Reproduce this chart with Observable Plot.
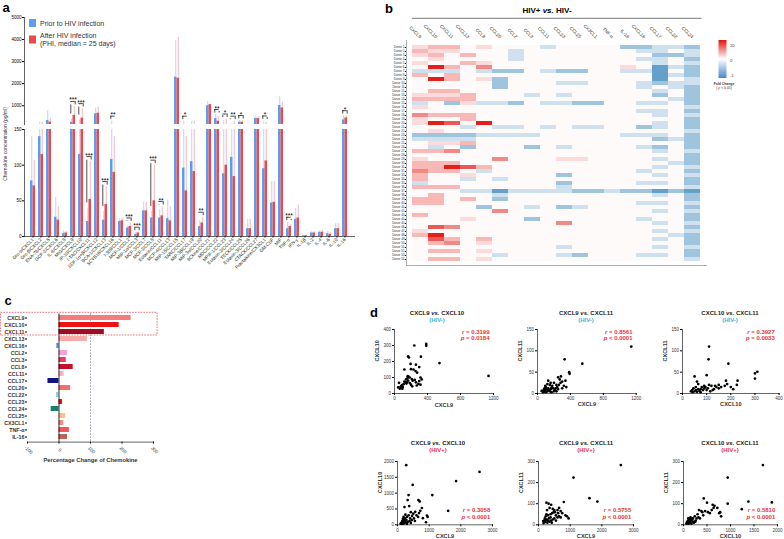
<!DOCTYPE html>
<html><head><meta charset="utf-8">
<script src="https://cdn.jsdelivr.net/npm/d3@7"></script>
<script src="https://cdn.jsdelivr.net/npm/@observablehq/plot@0.6"></script>
<style>
body{margin:0;background:#fff;}
#root{position:relative;width:784px;height:539px;overflow:hidden;background:#fff;}
.abs{position:absolute;}
.abs svg{display:block;}
</style></head><body><div id="root"></div>
<script>
// ---------------- Panel a data ----------------
const cytokines = ["Gro-α/CXCL1","Gro-β/CXCL2","ENA-78/CXCL5","GCP-2/CXCL6","IL-8/CXCL8","MIG/CXCL9","IP-10/CXCL10","I-TAC/CXCL11","SDF-1α+β/CXCL12","BCA-1/CXCL13","SCYB16/CXCL16","I-309/CCL1","MCP-1/CCL2","MIP-1α/CCL3","MCP-3/CCL7","MCP-2/CCL8","Eotaxin/CCL11","MCP-4/CCL13","MIP-1δ/CCL15","TARC/CCL17","MIP-3β/CCL19","MIP-3α/CCL20","6Ckine/CCL21","MDC/CCL22","MPIF-1/CCL23","Eotaxin-2/CCL24","TECK/CCL25","Eotaxin-3/CCL26","CTACK/CCL27","Fractalkine/CX3CL1","GM-CSF","MIF","TNF-α","IFN-γ","IL-1β","IL-2","IL-4","IL-6","IL-10","IL-16"];
const priorMean = [78,140,330,27,4,255,115,21,636,23,108,21,12,3,36,26,26,25,2300,96,105,14,1000,420,88,111,255,11,420,95,47,1010,11,24,1,5,6,4,11,360];
const afterMean = [71,115,260,23,5,560,440,52,664,45,90,22,14,5,36,50,29,22,2250,64,91,19,1050,300,100,84,255,11,420,106,48,900,14,26,1,5,6,3,11,450];
const priorErr = [140,260,780,55,8,400,350,40,900,35,300,25,15,5,48,35,38,51,3950,300,300,22,1200,600,330,180,330,24,500,310,77,1400,20,39,2,7,8,7,18,550];
const afterErr = [107,250,430,42,7,970,870,105,930,70,140,25,19,6,48,100,42,42,4100,140,300,27,1050,520,400,300,330,24,500,250,77,1150,17,44,2,7,9,6,18,550];
const sigStars = ["","","","","","***","***","***","","***","**","","***","***","","***","**","","","*","","**","","**","*","**","*","","","*","","","***","","","","","","","*"];
const topTicks = [1000,2000,3000,4000,5000];
const lowTicks = [0,50,100,150];

// ---------------- Panel b data ----------------
const hmCols = ["CXCL9","CXCL10","CXCL11","CXCL13","CCL8","CCL20","CCL2","CCL3","CCL11","CCL23","CCL25","CX3CL1","TNF-α","IL-16","CXCL16","CCL17","CCL22","CCL24"];
const hmLevels = {R:19, r:14, m:10, p:6, q:3, ".":0.4, l:-0.25, b:-0.5, B:-0.8};
const hmRows = [
"qpp.q...l....bbllb","pqq...l.......ll.l","qp.p..l........bbl",".q....l.......ll.b","q..pq..........l.l",
".Rp.m........q.Blb","lll.lbb.lbb..llB.b","p.p............Blb",".Rp.qb.........B.l",".....b...ll...lbll",
".....b........l.lb",".pp............l.b","qqqp...l.l.....b.b","pppp............lb","l.bqllb.llbb..ll.b",
"q................l","..............ll.b","mppp...........l.l","q..p.............b","qRr.R..........l.b",
"...l.ll.l.ll..bl.b",".q...............l","bbbbllll.....lll.b","llll...........blb",".qqp.............b",
".l.b...b.l....lb.b","ppm............l.l",".................b","q....m...qq....l.b","ppp.............lb",
"ppRrp..........l.l","mpp.l.........l..b","p..q.....b.....l.l","p..l.l...........b","l........b....ll.b",
"ppp......l.......l","...llBllllbblbbBbB",".p...l.........l.b","pp.p.b...........b","pp............ll.l",
"....b..l.bl......b",".....m.........l.l","p................b","...q...b......l..b",".........m.....l.l",
".rm..............b","q..............l.l","pR..............lb",".rp.p..........l.b",".pm.q............b",
".........l.....l.l",".pp.q............b",".....l...lb...ll.b",".pp.q............l"];
const donors = hmRows.map((_, i) => "Donor " + (i + 1));

// ---------------- Panel c data ----------------
const pcNames = ["CXCL9","CXCL10","CXCL11","CXCL13","CXCL16","CCL2","CCL3","CCL8","CCL11","CCL17","CCL20","CCL22","CCL23","CCL24","CCL25","CX3CL1","TNF-α","IL-16"];
const pcValues = [229,191,144,90,-7,27,23,45,16,-35,37,-8,11,-25,21,15,33,27];
const pcColors = ["#f47c7c","#f01212","#9c0e26","#f9aaa8","#4f93dc","#f4a2d8","#ea3c5e","#c4102c","#f5b0c0","#10107e","#f76e6e","#8ccfe0","#e5101a","#188262","#f8c28c","#f48a8a","#f45656","#bf605a"];

// ---------------- Panel d data ----------------
const negX9Y10 = [[240,300],[385,310],[385,298],[545,190],[1140,110],[320,230],[175,225],[165,232],[195,185],[260,180],[120,150],[200,152],[300,165],[275,130],[230,150],[255,140],[160,108],[185,100],[315,100],[330,88],[300,78],[315,55],[290,60],[140,88],[155,95],[170,105],[210,90],[220,80],[245,85],[120,75],[145,62],[165,80],[130,70],[150,70],[90,52],[55,67],[75,42],[45,38],[65,30],[95,30],[80,45],[110,58],[100,40],[200,55],[270,50],[215,45],[185,65],[260,70]];
const negX9Y11 = [[1140,110],[545,70],[330,80],[385,50],[390,46],[340,30],[300,28],[250,38],[270,33],[285,40],[130,30],[160,25],[200,25],[230,20],[240,15],[320,18],[350,15],[180,18],[150,20],[120,22],[100,15],[110,10],[90,8],[80,5],[60,5],[70,3],[50,6],[130,12],[140,8],[160,10],[170,14],[190,12],[210,8],[220,12],[250,10],[260,20],[280,25],[300,12],[120,5],[150,5],[100,3],[75,8],[85,12],[95,18],[200,5],[170,3],[230,5]];
const negX10Y11 = [[110,110],[108,80],[190,70],[300,47],[310,51],[300,35],[228,30],[225,20],[180,30],[185,22],[175,18],[160,15],[50,40],[100,43],[120,18],[110,20],[140,15],[150,12],[130,10],[95,15],[90,18],[80,15],[75,10],[60,28],[65,22],[55,15],[45,12],[40,8],[35,5],[42,3],[50,5],[55,8],[60,4],[65,10],[70,6],[75,3],[85,8],[90,12],[100,8],[105,12],[115,5],[125,8],[135,18],[150,20],[200,15],[210,10]];
const posX9Y10 = [[275,1885],[2590,1670],[1850,1380],[1100,940],[1600,440],[480,1260],[350,940],[320,780],[660,780],[700,740],[220,560],[370,590],[560,410],[680,370],[720,440],[770,530],[930,290],[950,250],[900,80],[800,210],[600,300],[650,250],[500,350],[420,400],[460,280],[400,200],[350,300],[300,250],[280,150],[250,320],[240,200],[230,100],[200,150],[180,80],[160,50],[150,120],[140,30],[120,60],[100,40],[200,40],[260,60],[320,90],[380,120],[450,150],[520,200],[550,120],[420,60],[300,30],[190,250],[170,180]];
const posX9Y11 = [[2600,283],[1105,224],[1610,126],[1860,110],[250,105],[320,100],[400,95],[350,80],[450,75],[500,70],[600,70],[650,80],[700,65],[800,108],[850,45],[900,40],[950,30],[750,55],[550,45],[480,60],[430,55],[380,50],[300,45],[270,70],[230,40],[200,30],[180,20],[220,15],[260,25],[280,10],[300,20],[330,30],[350,15],[400,20],[450,25],[500,30],[550,20],[600,35],[650,40],[700,35],[420,10],[250,50],[200,12],[150,18],[160,8],[210,22],[380,35],[520,60],[620,55]];
const posX10Y11 = [[1690,283],[940,224],[940,100],[1380,110],[1880,106],[1240,74],[800,40],[780,60],[760,55],[640,80],[620,95],[560,55],[500,105],[430,125],[460,65],[400,60],[380,65],[330,70],[300,50],[320,35],[280,30],[260,20],[240,40],[200,15],[180,25],[160,20],[150,10],[140,30],[120,15],[100,20],[90,8],[80,15],[70,10],[110,5],[130,25],[200,30],[220,10],[170,5],[250,15],[350,30],[420,45],[520,60],[600,70],[660,90],[720,80],[100,30],[60,5],[150,35]];
const scTitles = ["CXCL9 vs. CXCL10","CXCL9 vs. CXCL11","CXCL10 vs. CXCL11"];
const scXLabels = ["CXCL9","CXCL9","CXCL10"];
const scYLabels = ["CXCL10","CXCL11","CXCL11"];
const negR = ["0.3199","0.8561","0.3927"], negP = ["= 0.0184","< 0.0001","= 0.0033"];
const posR = ["0.3058","0.5755","0.5810"], posP = ["< 0.0001","< 0.0001","< 0.0001"];

// ---------------- helpers ----------------
const FONT = '"Liberation Sans", Arial, Helvetica, sans-serif';
const BLUE = "#5b9df0", RED = "#ec4850", BLUE_E = "#a9c8f5", RED_E = "#f5a5aa";
const root = document.getElementById("root");
const STYLE = {fontFamily: FONT, background: "transparent", overflow: "visible", maxWidth: "none"};
function place(node, left, top) {
  const d = document.createElement("div");
  d.className = "abs"; d.style.left = left + "px"; d.style.top = top + "px";
  d.appendChild(node); root.appendChild(d);
}

// ---------------- Panel a ----------------
const aData = cytokines.map((c, i) => ({c, prior: priorMean[i], after: afterMean[i], pe: priorErr[i], ae: afterErr[i], sig: sigStars[i]}));
const levelOf = d => Math.max(d.pe, d.ae);
const sigData = aData.filter(d => d.sig);
const xA = {type: "band", domain: cytokines, range: [24.2, 353.3], paddingInner: 0.4, paddingOuter: 0};
function barMarks() {
  return [
    Plot.ruleX(aData, {x: "c", y1: "prior", y2: "pe", dx: -1.25, stroke: BLUE_E, strokeWidth: 0.8, clip: true}),
    Plot.ruleX(aData, {x: "c", y1: "after", y2: "ae", dx: 1.25, stroke: RED_E, strokeWidth: 0.8, clip: true}),
    Plot.barY(aData, {x: "c", y: "prior", fill: BLUE, insetRight: 2.5, clip: true}),
    Plot.barY(aData, {x: "c", y: "after", fill: RED, insetLeft: 2.5, clip: true})
  ];
}
function sigMarks(data) {
  return [
    Plot.tickY(data, {x: "c", y: levelOf, dy: -5, stroke: "#000", strokeWidth: 0.7, insetLeft: 0.3, insetRight: 0.3}),
    Plot.ruleX(data, {x: "c", y1: "pe", y2: levelOf, insetTop: -5, insetBottom: 1.5, dx: -2.2, stroke: "#000", strokeWidth: 0.7, clip: true}),
    Plot.ruleX(data, {x: "c", y1: "ae", y2: levelOf, insetTop: -5, insetBottom: 1.5, dx: 2.2, stroke: "#000", strokeWidth: 0.7, clip: true}),
    Plot.text(data, {x: "c", y: levelOf, dy: -4, text: "sig", fontSize: 6.5, lineAnchor: "bottom", fill: "#000"})
  ];
}
const aTop = Plot.plot({
  width: 390, height: 126, marginTop: 17, marginBottom: 2, marginLeft: 24, marginRight: 36,
  style: STYLE, x: xA, y: {domain: [150, 5000]},
  marks: [
    ...barMarks(),
    ...sigMarks(sigData.filter(d => levelOf(d) > 150)),
    Plot.frame({anchor: "left", stroke: "#222", strokeWidth: 0.7}),
    Plot.axisY({ticks: topTicks, tickSize: 2, tickPadding: 1, fontSize: 4.5, tickFormat: d => String(d), label: null}),
    Plot.axisX({ticks: [], label: null})
  ]
});
place(aTop, 0, 0);
const aLow = Plot.plot({
  width: 390, height: 160, marginTop: 3, marginBottom: 50, marginLeft: 24, marginRight: 36,
  style: STYLE, x: xA, y: {domain: [0, 150]},
  marks: [
    ...barMarks(),
    ...sigMarks(sigData.filter(d => levelOf(d) <= 150)),
    Plot.frame({anchor: "left", stroke: "#222", strokeWidth: 0.7}),
    Plot.frame({anchor: "bottom", stroke: "#222", strokeWidth: 0.7}),
    Plot.axisY({ticks: lowTicks, tickSize: 2, tickPadding: 1, fontSize: 4.5, tickFormat: d => String(d), label: null}),
    Plot.axisX({tickRotate: -45, textAnchor: "end", tickSize: 1.5, tickPadding: 1, fontSize: 4.6, label: null, fill: "#222"})
  ]
});
place(aLow, 0, 126);

// ---------------- Panel b ----------------
const hmData = [];
hmRows.forEach((row, i) => [...row].forEach((ch, j) => hmData.push({donor: donors[i], col: hmCols[j], v: hmLevels[ch]})));
const hm = Plot.plot({
  width: 399, height: 270, marginLeft: 21, marginRight: 78, marginTop: 40, marginBottom: 5,
  style: STYLE,
  x: {domain: hmCols, padding: 0},
  y: {domain: donors, padding: 0},
  color: {type: "linear", domain: [-1, 0, 20], range: ["#3f88bd", "#ffffff", "#e3120d"]},
  marks: [
    Plot.cell(hmData, {x: "col", y: "donor", fill: "v", inset: 0}),
    Plot.frame({anchor: "left", stroke: "#999", strokeWidth: 0.8}),
    Plot.frame({anchor: "bottom", stroke: "#999", strokeWidth: 0.8}),
    Plot.axisX({anchor: "top", tickRotate: 45, textAnchor: "end", tickSize: 0, tickPadding: 3, fontSize: 4.6, label: null, fill: "#333"}),
    Plot.axisY({tickSize: 1.2, tickPadding: 0.8, fontSize: 3, label: null, fill: "#333"})
  ]
});
place(hm, 385, 0);

// ---------------- Panel c ----------------
const pcData = pcNames.map((name, i) => ({name, v: pcValues[i]}));
const pc = Plot.plot({
  width: 170, height: 170, marginLeft: 27, marginRight: 17, marginTop: 13.4, marginBottom: 28.4,
  style: STYLE,
  x: {domain: [-100, 300]},
  y: {domain: pcNames, paddingInner: 0.28, paddingOuter: 0.14},
  color: {domain: pcNames, range: pcColors},
  marks: [
    Plot.ruleX([100], {stroke: "#8a8ab0", strokeDasharray: "1.5,1.5", strokeWidth: 0.8}),
    Plot.barX(pcData, {x: "v", y: "name", fill: "name"}),
    Plot.ruleX([0], {stroke: "#000", strokeWidth: 0.8}),
    Plot.frame({anchor: "bottom", stroke: "#222", strokeWidth: 0.7}),
    Plot.axisX({ticks: [-100, 0, 100, 200, 300], tickSize: 2, tickFormat: () => "", label: null}),
    Plot.text([-100, 0, 100, 200, 300], {x: d => d, frameAnchor: "bottom", dy: 9, rotate: 45, text: d => String(d), fontSize: 4.6, fill: "#333"}),
    Plot.axisY({tickSize: 2, tickPadding: 1, fontSize: 5.3, fontWeight: "bold", fill: "#333", label: null}),
    Plot.text(["Percentage Change of Chemokine"], {frameAnchor: "bottom", dy: 19.5, text: d => d, fontSize: 5.8, fontWeight: "bold", fill: "#333"})
  ]
});
place(pc, 0, 300);

// ---------------- Panel d ----------------
const scFrames = [
  {fx: 394, fy: 329.3, fw: 99, fh: 64, tx: 437},
  {fx: 537.3, fy: 329.3, fw: 98.7, fh: 64, tx: 586},
  {fx: 681.7, fy: 329.3, fw: 96.6, fh: 64, tx: 730},
  {fx: 397.3, fy: 460.7, fw: 95, fh: 63.3, tx: 438},
  {fx: 538.3, fy: 460.7, fw: 95, fh: 63.3, tx: 586},
  {fx: 683.3, fy: 460.7, fw: 94, fh: 63.3, tx: 730}
];
const scConf = [
  {pts: negX9Y10, xd: [0, 1200], xt: [0, 400, 800, 1200], yd: [0, 400], yt: [0, 100, 200, 300, 400]},
  {pts: negX9Y11, xd: [0, 1200], xt: [0, 400, 800, 1200], yd: [0, 150], yt: [0, 50, 100, 150]},
  {pts: negX10Y11, xd: [0, 400], xt: [0, 100, 200, 300, 400], yd: [0, 150], yt: [0, 50, 100, 150]},
  {pts: posX9Y10, xd: [0, 3000], xt: [0, 1000, 2000, 3000], yd: [0, 2000], yt: [0, 500, 1000, 1500, 2000]},
  {pts: posX9Y11, xd: [0, 3000], xt: [0, 1000, 2000, 3000], yd: [0, 300], yt: [0, 100, 200, 300]},
  {pts: posX10Y11, xd: [0, 2000], xt: [0, 500, 1000, 1500, 2000], yd: [0, 300], yt: [0, 100, 200, 300]}
];
scConf.forEach((c, k) => {
  const f = scFrames[k];
  const mL = 34, mT = 10, mR = 3, mB = 24;
  const svg = Plot.plot({
    width: f.fw + mL + mR, height: f.fh + mT + mB, marginLeft: mL, marginRight: mR, marginTop: mT, marginBottom: mB,
    style: STYLE,
    x: {domain: c.xd}, y: {domain: c.yd},
    marks: [
      Plot.frame({anchor: "left", stroke: "#222", strokeWidth: 0.7}),
      Plot.frame({anchor: "bottom", stroke: "#222", strokeWidth: 0.7}),
      Plot.axisX({ticks: c.xt, tickSize: 2, tickPadding: 1.5, fontSize: 4.5, tickFormat: d => String(d), label: null, fill: "#333"}),
      Plot.axisY({ticks: c.yt, tickSize: 2, tickPadding: 1.5, fontSize: 4.5, tickFormat: d => String(d), label: null, fill: "#333"}),
      Plot.dot(c.pts, {x: d => d[0], y: d => d[1], r: 1.35, fill: "#000", stroke: "none"}),
      Plot.text([scXLabels[k % 3]], {frameAnchor: "bottom", dy: 13, text: d => d, fontSize: 5.6, fontWeight: "bold", fill: "#333"}),
      Plot.text([scYLabels[k % 3]], {frameAnchor: "left", dx: -17, rotate: -90, text: d => d, fontSize: 5.6, fontWeight: "bold", fill: "#333"})
    ]
  });
  place(svg, f.fx - mL, f.fy - mT);
});

// ---------------- overlay texts ----------------
const ov = d3.select("#root").append("svg").attr("width", 784).attr("height", 539)
  .style("position", "absolute").style("left", "0px").style("top", "0px").style("font-family", FONT);
function T(x, y, text, o = {}) {
  const t = ov.append("text").attr("x", x).attr("y", y).attr("dominant-baseline", "central")
    .attr("text-anchor", o.anchor || "middle").attr("font-size", o.size || 6)
    .attr("font-weight", o.weight || "normal").attr("fill", o.fill || "#000");
  if (o.rotate) t.attr("transform", `rotate(${o.rotate},${x},${y})`);
  if (o.parts) o.parts.forEach(p => { const s = t.append("tspan").text(p[0]); if (p[1]) s.attr("font-style", "italic"); });
  else t.text(text);
  return t;
}
// panel letters
T(6, 7, "a", {size: 13, weight: "bold"});
T(389, 8, "b", {size: 13, weight: "bold"});
T(8, 300, "c", {size: 13, weight: "bold"});
T(374, 312, "d", {size: 13, weight: "bold"});
// panel a legend + y title
ov.append("rect").attr("x", 29).attr("y", 19).attr("width", 7).attr("height", 8).attr("fill", BLUE);
ov.append("rect").attr("x", 29).attr("y", 35.5).attr("width", 7).attr("height", 8).attr("fill", RED);
T(40, 23, "Prior to HIV infection", {anchor: "start", size: 7, fill: "#333"});
T(40, 35, "After HIV infection", {anchor: "start", size: 7, fill: "#333"});
T(40, 43.5, "(PHI, median = 25 days)", {anchor: "start", size: 7, fill: "#333"});
T(5, 144, "Chemokine concentration (pg/ml)", {size: 5, rotate: -90, fill: "#333"});
// panel b title, line, colour bar
T(547, 10, "", {size: 8, weight: "bold", parts: [["HIV+ ", false], ["vs.", true], [" HIV-", false]]});
ov.append("line").attr("x1", 412).attr("x2", 701.5).attr("y1", 18.3).attr("y2", 18.3).attr("stroke", "#444").attr("stroke-width", 0.7);
const grad = ov.append("defs").append("linearGradient").attr("id", "cb").attr("x1", 0).attr("x2", 0).attr("y1", 0).attr("y2", 1);
grad.append("stop").attr("offset", "0%").attr("stop-color", "#e3120d");
grad.append("stop").attr("offset", "50%").attr("stop-color", "#ffffff");
grad.append("stop").attr("offset", "100%").attr("stop-color", "#4a86c8");
ov.append("rect").attr("x", 718.5).attr("y", 40).attr("width", 8).attr("height", 38).attr("fill", "url(#cb)");
T(730, 45, "20", {anchor: "start", size: 4.2, fill: "#333"});
T(730, 60, "0", {anchor: "start", size: 4.2, fill: "#333"});
T(730, 75, "-1", {anchor: "start", size: 4.2, fill: "#333"});
T(724, 83.5, "Fold Change", {size: 3.4, weight: "bold", fill: "#333"});
T(724, 88.3, "", {size: 3.4, fill: "#333", parts: [["( ", false], ["p", true], [" < 0.05)", false]]});
// panel c dashed box
ov.append("rect").attr("x", 0.6).attr("y", 312.3).attr("width", 156.5).attr("height", 22.7)
  .attr("fill", "none").attr("stroke", "#e0303a").attr("stroke-width", 0.7).attr("stroke-dasharray", "1.6,1.2");
// panel d titles and stats
const CYAN = "#3fb2d6", RTXT = "#e8333a";
scFrames.forEach((f, k) => {
  const top = k < 3;
  const ty = top ? 312.7 : 443.3;
  const parts = scTitles[k % 3].split(" vs. ");
  T(f.tx, ty, "", {size: 6, weight: "bold", fill: "#222", parts: [[parts[0] + " ", false], ["vs.", true], [" " + parts[1], false]]});
  T(f.tx, ty + 7, top ? "(HIV-)" : "(HIV+)", {size: 6, weight: "bold", fill: top ? CYAN : RTXT});
  const rx = f.fx + f.fw - (top ? 3.5 : 2);
  const r1 = top ? f.fy + 2.6 : f.fy + f.fh - 14;
  const rv = top ? negR[k] : posR[k - 3], pv = top ? negP[k] : posP[k - 3];
  T(rx, r1, "", {anchor: "end", size: 6, weight: "bold", fill: RTXT, parts: [["r", true], [" = " + rv, false]]});
  T(rx, r1 + 6.5, "", {anchor: "end", size: 6, weight: "bold", fill: RTXT, parts: [["p", true], [" " + pv, false]]});
});
</script></body></html>
